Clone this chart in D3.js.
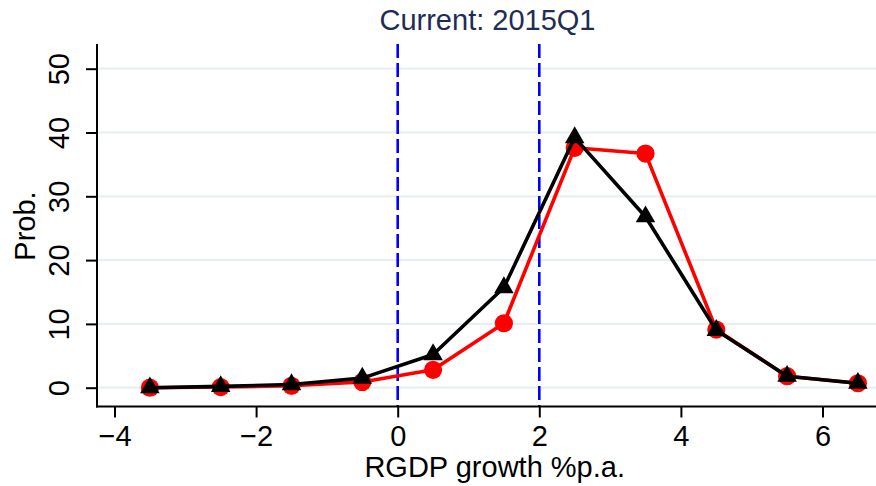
<!DOCTYPE html>
<html>
<head>
<meta charset="utf-8">
<script src="https://cdn.jsdelivr.net/npm/d3@7"></script>
<style>
  html, body { margin: 0; padding: 0; background: #fff; }
  svg { display: block; font-family: "Liberation Sans", Arial, sans-serif; }
</style>
</head>
<body>
<svg id="chart" width="876" height="486"></svg>
<script>
// Growth bins (mid-points, % p.a.)
const bins = [-3.5, -2.5, -1.5, -0.5, 0.5, 1.5, 2.5, 3.5, 4.5, 5.5, 6.5];
// Probability (%) per bin for the two distributions
const probRed   = [0.0, 0.1, 0.3, 0.9, 2.8, 10.1, 37.6, 36.7, 9.1, 1.8, 0.7];
const probBlack = [0.0, 0.2, 0.5, 1.5, 5.2, 15.7, 39.2, 26.8, 9.0, 1.8, 0.7];
// Reference lines on the growth axis
const refLines = [0, 2];
const xTicks = [-4, -2, 0, 2, 4, 6];
const yTicks = [0, 10, 20, 30, 40, 50];
const title = "Current: 2015Q1";

const svg = d3.select("#chart");
const plotLeft = 97, plotRight = 876, plotTop = 44, plotBottom = 406.5;
const fontSize = 29;

const x = d3.scaleLinear().domain([-4, 6]).range([114.5, 822.5]);
const y = d3.scaleLinear().domain([0, 50]).range([387.7, 68.7]);

// Horizontal grid lines
svg.append("g").selectAll("line").data(yTicks).join("line")
  .attr("x1", plotLeft).attr("x2", plotRight)
  .attr("y1", d => y(d)).attr("y2", d => y(d))
  .attr("stroke", "#e8eff2").attr("stroke-width", 2.2);

// Dashed reference lines
svg.append("g").selectAll("line").data(refLines).join("line")
  .attr("x1", d => x(d)).attr("x2", d => x(d))
  .attr("y1", plotTop).attr("y2", plotBottom)
  .attr("stroke", "#0000ff").attr("stroke-width", 2.6)
  .attr("stroke-dasharray", "14 5");

// Axes
const xAxis = d3.axisBottom(x).tickValues(xTicks).tickSize(11).tickPadding(8)
  .tickFormat(d => d < 0 ? "\u2212" + Math.abs(d) : d);
const gx = svg.append("g").attr("transform", `translate(0,${plotBottom})`).call(xAxis);
gx.select(".domain").remove();
gx.append("line").attr("x1", plotLeft - 1).attr("x2", plotRight).attr("stroke", "#000").attr("stroke-width", 2);
gx.selectAll(".tick line").attr("stroke", "#000").attr("stroke-width", 2);
gx.selectAll(".tick text").attr("fill", "#000").attr("font-size", fontSize);

const yAxis = d3.axisLeft(y).tickValues(yTicks).tickSize(11).tickFormat(d3.format("d"));
const gy = svg.append("g").attr("transform", `translate(${plotLeft},0)`).call(yAxis);
gy.select(".domain").remove();
gy.append("line").attr("y1", plotTop).attr("y2", plotBottom + 1).attr("stroke", "#000").attr("stroke-width", 2);
gy.selectAll(".tick line").attr("stroke", "#000").attr("stroke-width", 2);
gy.selectAll(".tick text")
  .attr("fill", "#000").attr("font-size", fontSize)
  .attr("x", null).attr("dy", null)
  .attr("text-anchor", "middle")
  .attr("transform", "translate(-38,0) rotate(-90)")
  .attr("dominant-baseline", "central");

// Series
function drawSeries(values, color, symbolType, size) {
  const pts = bins.map((b, i) => [b, values[i]]);
  svg.append("path").datum(pts)
    .attr("fill", "none").attr("stroke", color).attr("stroke-width", 3.6)
    .attr("stroke-linejoin", "round")
    .attr("d", d3.line().x(d => x(d[0])).y(d => y(d[1])));
  svg.append("g").selectAll("path").data(pts).join("path")
    .attr("transform", d => `translate(${x(d[0])},${y(d[1])})`)
    .attr("d", d3.symbol().type(symbolType).size(size))
    .attr("fill", color);
}
drawSeries(probRed, "#ff0000", d3.symbolCircle, 260);
drawSeries(probBlack, "#000000", d3.symbolTriangle, 165);

// Titles
svg.append("text").attr("x", 487.5).attr("y", 30).attr("text-anchor", "middle")
  .attr("font-size", fontSize).attr("fill", "#1e2d55").text(title);
svg.append("text").attr("x", 494.7).attr("y", 477).attr("text-anchor", "middle")
  .attr("font-size", fontSize).attr("fill", "#000").text("RGDP growth %p.a.");
svg.append("text").attr("transform", `translate(35,226) rotate(-90)`)
  .attr("text-anchor", "middle").attr("font-size", fontSize).attr("fill", "#000").text("Prob.");
</script>
</body>
</html>
